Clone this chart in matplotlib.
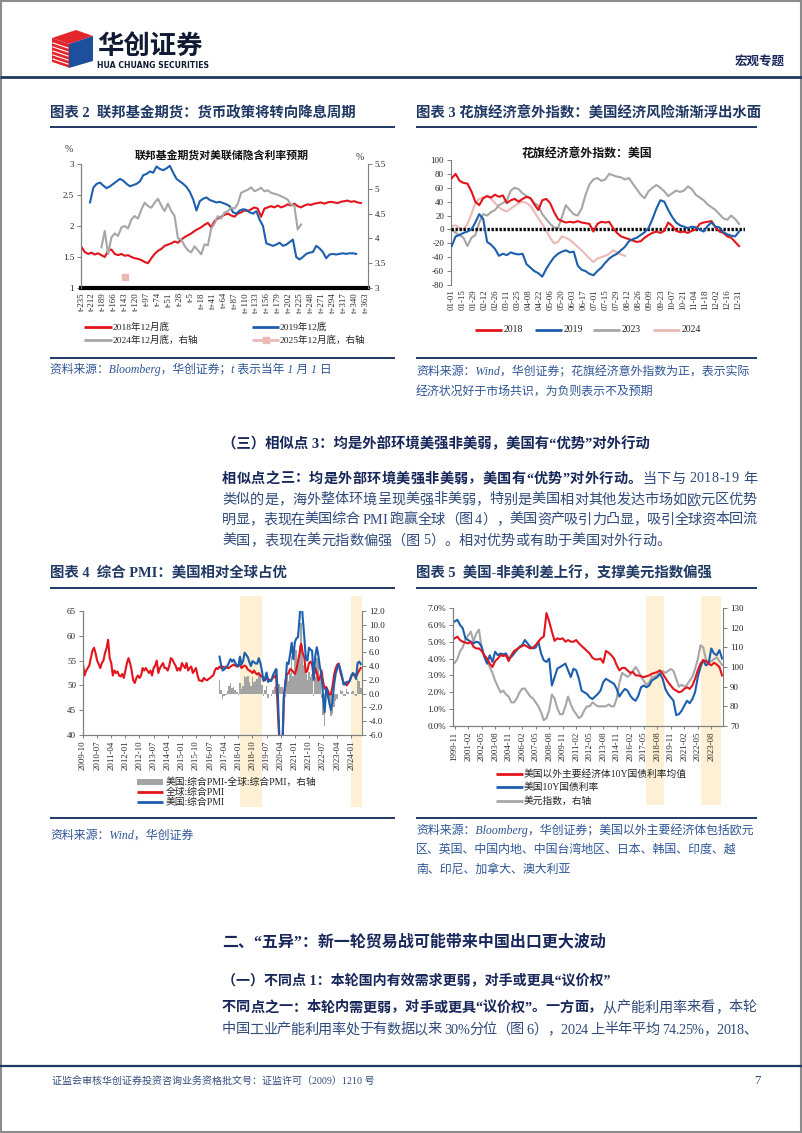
import matplotlib
matplotlib.use("Agg")
import matplotlib.pyplot as plt
import numpy as np
from matplotlib.font_manager import FontProperties
from matplotlib.lines import Line2D
from matplotlib.patches import Polygon, Rectangle

# ---------------- data ----------------
# 图表2: 联邦基金期货隐含利率, x = 距当年1月1日天数
fed_x_2018 = np.arange(-235, 354, 7)
fed_2018 = [1.66, 1.58, 1.55, 1.57, 1.54, 1.56, 1.53, 1.50, 1.60, 1.62,
            1.55, 1.53, 1.55, 1.52, 1.53, 1.50, 1.48, 1.47, 1.45, 1.42,
            1.40, 1.48, 1.55, 1.60, 1.63, 1.68, 1.70, 1.72, 1.75, 1.73,
            1.78, 1.82, 1.85, 1.88, 1.92, 1.95, 1.98, 2.02, 2.05, 1.98,
            2.08, 2.12, 2.15, 2.18, 2.20, 2.17, 2.15, 2.20, 2.22, 2.25,
            2.24, 2.27, 2.30, 2.28, 2.15, 2.28, 2.30, 2.32, 2.30, 2.33,
            2.30, 2.32, 2.35, 2.33, 2.36, 2.32, 2.30, 2.33, 2.35, 2.34,
            2.36, 2.37, 2.38, 2.36, 2.38, 2.39, 2.38, 2.37, 2.39, 2.40,
            2.41, 2.39, 2.40, 2.38, 2.37]
fed_x_2019 = np.arange(-217, 344, 7)
fed_2019 = [2.38, 2.62, 2.68, 2.70, 2.65, 2.61, 2.64, 2.68, 2.72, 2.76,
            2.73, 2.68, 2.64, 2.66, 2.68, 2.72, 2.82, 2.84, 2.88, 2.86,
            2.96, 2.92, 2.90, 2.93, 2.97, 2.86, 2.76, 2.72, 2.68, 2.63,
            2.55, 2.43, 2.25, 2.40, 2.44, 2.46, 2.42, 2.40, 2.38, 2.39,
            2.37, 2.35, 2.32, 2.22, 2.20, 2.25, 2.27, 2.26, 2.22, 2.20,
            2.24, 2.10, 2.00, 1.72, 1.70, 1.68, 1.70, 1.73, 1.68, 1.70,
            1.74, 1.78, 1.50, 1.46, 1.50, 1.55, 1.57, 1.58, 1.68, 1.64,
            1.58, 1.48, 1.54, 1.55, 1.54, 1.55, 1.56, 1.55, 1.56, 1.56,
            1.55]
fed_x_2024 = np.arange(-193, 228, 7)
fed_2024 = [3.82, 4.15, 3.68, 4.02, 4.10, 4.05, 4.22, 4.25, 4.20, 4.38,
            4.45, 4.40, 4.58, 4.72, 4.65, 4.62, 4.72, 4.80, 4.66, 4.55,
            4.70, 4.55, 4.45, 4.00, 3.98, 3.85, 3.76, 3.72, 3.84, 3.76,
            3.68, 3.88, 3.86, 4.20, 4.30, 4.45, 4.40, 4.52, 4.55, 4.62,
            4.60, 4.70, 4.92, 4.95, 4.98, 5.03, 4.95, 4.98, 5.02, 4.95,
            4.97, 4.92, 4.90, 4.88, 4.85, 4.82, 4.78, 4.68, 4.66, 4.18,
            4.28]
fed_x_2025 = [-144]
fed_2025 = [3.22]
fed_ticks = [-235, -212, -189, -166, -143, -120, -97, -74, -51, -28, -5, 18, 41, 64,
             87, 110, 133, 156, 179, 202, 225, 248, 271, 294, 317, 340, 363]
fed_labels = ["t-235", "t-212", "t-189", "t-166", "t-143", "t-120", "t-97", "t-74",
              "t-51", "t-28", "t-5", "t+18", "t+41", "t+64", "t+87", "t+110", "t+133",
              "t+156", "t+179", "t+202", "t+225", "t+248", "t+271", "t+294", "t+317",
              "t+340", "t+363"]

# 图表3: 花旗经济意外指数, x = 一年中的第几天
citi_days = np.arange(0, 366, 5)
citi_days_2024 = np.arange(0, 221, 5)
citi_2018 = [74, 80, 70, 67, 66, 55, 40, 35, 45, 48,
             46, 50, 47, 49, 38, 42, 44, 40, 44, 47,
             45, 36, 28, 42, 44, 38, 25, 15, 12, 10,
             11, 10, 12, 10, 9, 8, -3, 8, 11, 10,
             11, 2, -5, -10, -12, -14, -16, -18, -17, -12,
             -8, -5, -3, -5, -2, 10, 5, -2, -4, -3,
             -5, -2, 0, 8, 10, 11, 12, 3, -3, -5,
             -10, -12, -18, -24]
citi_2019 = [-24, -10, -8, -5, -3, 0, 10, 22, 15, -18,
             -22, -28, -38, -35, -37, -33, -35, -36, -35, -50,
             -55, -60, -63, -68, -57, -48, -40, -35, -32, -30,
             -33, -32, -52, -58, -60, -64, -66, -60, -55, -48,
             -42, -38, -35, -30, -25, -17, -14, -12, -8, -4,
             2, 15, 30, 42, 40, 28, 18, 10, 6, 4,
             2, 4, 3, 0, -3, 5, 10, 4, 3, -4,
             -7, -9, -10, -3]
citi_2023 = [0, -5, -8, -12, -24, -12, -8, 10, 22, 20,
             25, 28, 35, 38, 42, 56, 60, 58, 52, 48,
             45, 38, 34, 22, 15, 8, 3, 2, 18, 35,
             28, 22, 20, 30, 50, 65, 72, 74, 70, 72,
             80, 78, 76, 75, 72, 74, 66, 58, 50, 45,
             55, 60, 64, 60, 55, 48, 52, 56, 54, 56,
             62, 58, 50, 46, 42, 36, 32, 28, 22, 16,
             14, 20, 15, 8]
citi_2024 = [5, 6, 2, 0, 8, 22, 38, 44, 46, 48,
             44, 38, 32, 28, 26, 30, 34, 38, 40, 38,
             34, 25, 16, 8, -2, -12, -20, -18, -10, -12,
             -15, -20, -25, -30, -36, -42, -47, -42, -40, -38,
             -35, -30, -33, -36, -38]
citi_ticks = [0, 14, 28, 42, 56, 70, 84, 98, 112, 126, 140, 154, 168, 182, 196,
              210, 224, 238, 252, 266, 280, 294, 308, 322, 336, 350, 364]
citi_labels = ["01-01", "01-15", "01-29", "02-12", "02-26", "03-11", "03-25", "04-08",
               "04-22", "05-06", "05-20", "06-03", "06-17", "07-01", "07-15", "07-29",
               "08-12", "08-26", "09-09", "09-23", "10-07", "10-21", "11-04", "11-18",
               "12-02", "12-16", "12-31"]

# 图表4: 综合PMI, 月度, 0 = 2009-10
pmi_x = np.arange(178)
pmi_global = [54.3, 52.0, 53.0,
              53.5, 54.0, 55.5, 57.0, 57.6, 56.5, 55.0, 54.3, 53.5, 54.5, 55.0, 56.5,
              57.5, 59.2, 55.5, 54.5, 52.0, 53.0, 52.5, 52.8, 52.0, 51.8, 52.3, 51.5,
              53.0, 54.5, 55.5, 54.5, 53.0, 51.0, 50.5, 51.5, 52.0, 51.5, 52.0, 53.5,
              53.0, 53.5, 53.0, 52.5, 53.0, 52.0, 53.5, 54.0, 55.0, 52.5, 53.5, 54.0,
              54.5, 53.5, 53.5, 53.0, 54.0, 55.5, 55.2, 54.5, 54.0, 53.0, 53.5, 53.0,
              54.5, 54.0, 53.5, 54.5, 53.0, 53.5, 53.8, 52.5, 53.0, 53.5, 52.0, 51.0,
              51.0, 50.8, 51.5, 51.2, 51.0, 51.3, 51.5, 51.8, 52.0, 53.0, 53.5, 53.3,
              53.8, 53.5, 53.8, 53.5, 53.8, 53.5, 53.5, 53.8, 54.0, 54.2, 54.0, 53.8,
              54.0, 54.2, 53.5, 53.8, 54.0, 53.8, 53.2, 53.0, 52.8, 52.5, 53.0, 52.5,
              52.2, 52.5, 52.0, 51.8, 51.2, 51.0, 51.5, 51.3, 51.0, 51.2, 51.5, 51.7,
              52.2, 46.0, 39.5, 26.0, 36.0, 47.5, 50.8, 52.2, 52.5, 53.3, 53.1, 52.7,
              52.3, 53.2, 54.8, 56.5, 58.4, 56.6, 55.7, 52.6, 53.0, 54.5, 54.8, 54.2,
              51.5, 53.5, 52.5, 51.0, 51.5, 53.0, 50.8, 49.3, 49.7, 49.0, 48.2, 48.2,
              49.8, 52.1, 53.4, 54.2, 54.4, 52.7, 51.6, 50.6, 50.5, 50.0, 50.4, 51.0,
              51.8, 52.1, 52.3, 51.7, 52.4, 53.0, 53.5]
us_x = np.arange(87, 178)
pmi_us = [55.8, 54.1, 53.0, 53.2, 53.6, 53.9, 54.6, 55.3, 54.8, 55.2, 54.5, 54.1,
          53.8, 55.8, 54.2, 54.9, 56.6, 56.2, 55.7, 54.7, 53.9, 54.9, 54.7, 54.4,
          54.4, 55.5, 54.6, 53.0, 50.9, 51.5, 52.6, 50.7, 51.0, 50.9, 52.0, 52.7,
          53.3, 49.6, 40.9, 27.0, 37.0, 47.9, 50.3, 54.6, 54.3, 56.3, 58.6, 55.3,
          58.7, 59.5, 59.7, 63.5, 68.7, 63.7, 59.9, 55.4, 55.0, 57.6, 57.2, 57.0,
          51.1, 55.9, 57.7, 56.0, 53.6, 52.3, 47.7, 44.6, 49.5, 48.2, 46.4, 45.0,
          46.8, 50.1, 52.3, 53.4, 54.3, 53.2, 52.0, 50.2, 50.2, 50.7, 50.7, 50.9,
          52.0, 52.5, 52.1, 51.3, 54.5, 54.8, 54.3]
pmi_diff = [2.0, 0.6, -0.8, -0.3, -0.2, 0.4, 1.1, 1.5, 0.8, 1.0, 0.5, 0.3,
            -0.2, 1.6, 0.7, 1.1, 2.6, 2.4, 2.5, 1.7, 1.1, 2.4, 1.7, 1.9,
            2.2, 3.0, 2.6, 1.2, -0.3, 0.5, 1.1, -0.6, 0.0, -0.3, 0.5, 1.0,
            1.1, 3.6, 1.4, 1.0, 1.0, 0.4, -0.5, 2.4, 1.8, 3.0, 5.5, 2.6,
            6.4, 6.3, 4.9, 7.0, 10.3, 7.1, 4.2, 2.8, 2.0, 3.1, 2.4, 2.8,
            -0.4, 2.4, 5.2, 5.0, 2.1, -0.7, -3.1, -4.7, -0.2, -0.8, -1.8, -3.2,
            -3.0, -2.0, -1.1, -0.8, -0.1, 0.5, 0.4, -0.4, -0.3, 0.7, 0.3, -0.1,
            0.2, 0.4, -0.2, -0.4, 2.1, 1.8, 0.8]
pmi_ticks = [0, 9, 18, 27, 36, 45, 54, 63, 72, 81, 90, 99, 108, 117, 126, 135, 144, 153, 162, 171]
pmi_labels = ["2009-10", "2010-07", "2011-04", "2012-01", "2012-10", "2013-07", "2014-04",
              "2015-01", "2015-10", "2016-07", "2017-04", "2018-01", "2018-10", "2019-07",
              "2020-04", "2021-01", "2021-10", "2022-07", "2023-04", "2024-01"]
pmi_shade = [(100, 114), (171, 177.6)]

# 图表5: 10Y国债利率与美元指数, 季度采样, 0 = 1999-11
rate_x = np.arange(0, 300, 3)
rate_nonus = [5.2, 5.3, 5.1, 5.0, 4.95, 4.9, 5.0, 4.7, 4.6, 4.6,
              4.45, 4.2, 4.0, 3.7, 3.5, 3.85, 4.0, 4.2, 4.15, 4.2,
              3.85, 4.2, 4.45, 4.55, 4.65, 4.75, 4.8, 4.7, 4.6, 4.65,
              4.8, 5.0, 5.2, 5.3, 6.7, 6.2, 5.6, 5.05, 5.2, 5.15,
              5.2, 5.0, 5.1, 5.0, 5.0, 5.1, 4.9, 4.75, 4.6, 4.45,
              4.3, 4.05, 3.95, 3.95, 4.0, 3.75, 4.45, 4.35, 4.2, 4.0,
              3.6, 3.3, 3.45, 3.45, 3.3, 3.15, 3.2, 3.0, 3.0, 2.95,
              2.9, 2.95, 3.0, 3.1, 3.15, 3.2, 3.3, 3.1, 2.85, 2.6,
              2.4, 2.2, 2.1, 2.0, 2.05, 2.2, 2.3, 2.2, 2.4, 2.8,
              3.3, 3.7, 3.9, 3.85, 3.7, 3.6, 3.75, 3.65, 3.5, 3.0]
rate_us = [6.2, 6.3, 6.0, 5.8, 5.2, 5.1, 5.0, 4.9, 5.0, 4.95,
           4.7, 4.1, 3.7, 4.2, 3.8, 4.4, 4.2, 4.3, 4.25, 4.3,
           4.0, 4.1, 4.3, 4.5, 4.7, 4.8, 5.1, 4.9, 4.7, 4.6,
           4.65, 5.0, 4.3, 3.9, 3.8, 4.0, 2.4, 2.9, 3.4, 3.5,
           3.6, 3.7, 3.3, 2.9, 3.4, 3.3, 2.8, 2.1, 2.0, 1.9,
           1.7, 1.6, 1.75, 1.9, 2.1, 2.6, 2.8, 2.7, 2.6, 2.5,
           2.2, 1.75, 2.0, 2.2, 2.1, 1.8, 1.6, 1.5, 1.8, 2.3,
           2.4, 2.3, 2.4, 2.7, 2.8, 2.9, 3.1, 2.8, 2.2, 1.9,
           1.7, 1.5, 0.65, 0.7, 0.9, 1.2, 1.5, 1.35, 1.6, 2.0,
           2.9, 3.5, 3.9, 3.6, 3.7, 4.6, 4.3, 4.2, 4.5, 4.0]
dxy = [102, 104, 108, 110, 114, 116, 118, 113, 117, 119,
       110, 105, 103, 100, 97, 93, 90, 87, 88, 86,
       85, 82, 82, 84, 87, 89, 89, 87, 85, 84,
       82, 80, 77, 73, 74, 78, 86, 84, 79, 76,
       76, 80, 85, 81, 78, 76, 74, 75, 78, 80,
       80, 82, 81, 80, 80, 80, 80, 81, 80, 80,
       84, 92, 97, 96, 95, 96, 98, 100, 98, 95,
       93, 91, 92, 95, 95, 96, 97, 98, 97, 98,
       99, 98, 94, 90, 91, 90, 91, 93, 95, 99,
       104, 111, 110, 104, 102, 103, 104, 105, 103, 101]
rate_ticks = [0, 15, 30, 45, 60, 75, 90, 105, 120, 135, 150, 165, 180, 195, 210,
              225, 240, 255, 270, 285]
rate_labels = ["1999-11", "2001-02", "2002-05", "2003-08", "2004-11", "2006-02", "2007-05",
               "2008-08", "2009-11", "2011-02", "2012-05", "2013-08", "2014-11", "2016-02",
               "2017-05", "2018-08", "2019-11", "2021-02", "2022-05", "2023-08"]
rate_shade = [(212, 233), (274, 296)]

# ---------------- style ----------------
W, H = 802, 1133
FAM = ["Liberation Serif", "Noto Sans CJK SC", "DejaVu Sans"]
plt.rcParams["font.family"] = FAM
plt.rcParams["axes.unicode_minus"] = False

RED = "#e2141c"
BLUE = "#1c5fae"
GRAY = "#a6a6a6"
PINK = "#ebb9b5"
NAVY = "#1f3864"
SRC = "#2e5597"
SHADE = "#fdf0d4"
DARK = "#17275a"
BODY = "#2f4a7c"
AXC = "#7f7f7f"

fig = plt.figure(figsize=(W / 100, H / 100), dpi=100)
renderer = fig.canvas.get_renderer()


def fx(x):
    return x / W


def fy(y):
    return 1 - y / H


def put(x, y, s, size, **kw):
    kw.setdefault("va", "center")
    return fig.text(fx(x), fy(y), s, fontsize=size, **kw)


def hline(x0, x1, y, color=NAVY, lw=1.4):
    fig.add_artist(Line2D([fx(x0), fx(x1)], [fy(y), fy(y)], transform=fig.transFigure,
                          color=color, lw=lw, solid_capstyle="butt"))


def tw(s, fp):
    return renderer.get_text_width_height_descent(s, fp, ismath=False)[0]


def justify(x0, x1, y, parts, size, stretch=True):
    # lay out characters one by one so the line fills x0..x1 like the justified original
    items = []
    for s, bold in parts:
        fp = FontProperties(family=FAM, weight="bold" if bold else "normal", size=size)
        bar2 = tw("||", fp)
        bar1 = tw("|", fp)
        for ch in s:
            adv = tw("|" + ch + "|", fp) - bar2
            off = 0 if ch == " " else tw("|" + ch, fp) - tw(ch, fp) - (bar2 - bar1)
            items.append((ch, bold, adv, off))
    natural = sum(it[2] for it in items)
    gap = (x1 - x0 - natural) / (len(items) - 1) if stretch else 0
    x = x0
    for ch, bold, adv, off in items:
        if ch != " ":
            put(x + off, y, ch, size, weight="bold" if bold else "normal",
                color=DARK if bold else BODY)
        x += adv + gap


def axes_px(l, t, r, b):
    return fig.add_axes([l / W, 1 - b / H, (r - l) / W, (b - t) / H])


def style(ax, right=False):
    for s in ax.spines.values():
        s.set_color(AXC)
        s.set_linewidth(0.8)
    ax.spines["top"].set_visible(False)
    if not right:
        ax.spines["right"].set_visible(False)
    ax.tick_params(labelsize=6.5, length=3, width=0.7, color=AXC, labelcolor="#262626", pad=2)


def leg_line(x0, x1, y, color, lw=2.0):
    fig.add_artist(Line2D([fx(x0), fx(x1)], [fy(y), fy(y)], transform=fig.transFigure,
                          color=color, lw=lw, solid_capstyle="butt"))


# ---------------- page frame / header ----------------
fig.add_artist(Rectangle((0.001, 0.001), 0.998, 0.998, transform=fig.transFigure,
                         fill=False, edgecolor="#8c8c8c", lw=1.5))
fig.add_artist(Polygon([(fx(52), fy(38)), (fx(76), fy(30)), (fx(93), fy(36)), (fx(69), fy(44))],
                       closed=True, transform=fig.transFigure, color="#e3262b", lw=0))
fig.add_artist(Polygon([(fx(52), fy(38)), (fx(69), fy(44)), (fx(69), fy(68)), (fx(52), fy(62))],
                       closed=True, transform=fig.transFigure, color="#e3262b", lw=0))
fig.add_artist(Polygon([(fx(69), fy(44)), (fx(93), fy(36)), (fx(93), fy(61)), (fx(69), fy(68))],
                       closed=True, transform=fig.transFigure, color="#1d4f9c", lw=0))
for k in range(6):
    fig.add_artist(Line2D([fx(53), fx(68)], [fy(43 + 4 * k), fy(48 + 4 * k)],
                          transform=fig.transFigure, color="white", lw=0.8))
put(97, 46, "华创证券", 19, weight="bold", color="#111a33", family=["Noto Sans CJK SC"])
put(97, 65, "HUA CHUANG SECURITIES", 5.6, weight="bold", color="#111a33", family=["DejaVu Sans"])
put(785, 62, "宏观专题", 9, weight="bold", color=DARK, ha="right")
hline(0, W, 77, NAVY, 2.0)

# ---------------- chart titles row 1 ----------------
put(50, 113, "图表 2  联邦基金期货：货币政策将转向降息周期", 10.4, weight="bold", color=NAVY)
hline(50, 395, 127)
put(416, 113, "图表 3 花旗经济意外指数：美国经济风险渐渐浮出水面", 10.4, weight="bold", color=NAVY)
hline(416, 757, 127)

# ---------------- chart 2 ----------------
ax2 = axes_px(81, 164, 368, 288)
ax2r = ax2.twinx()
ax2.plot(fed_x_2018, fed_2018, color=RED, lw=1.5)
ax2.plot(fed_x_2019, fed_2019, color=BLUE, lw=1.5)
ax2r.plot(fed_x_2024, fed_2024, color=GRAY, lw=1.5)
ax2r.plot(fed_x_2025, fed_2025, ls="none", marker="s", ms=5, color=PINK)
ax2.set_xlim(-236, 368)
ax2.set_ylim(1, 3)
ax2r.set_ylim(3, 5.5)
style(ax2)
style(ax2r, right=True)
ax2.set_yticks([1, 1.5, 2, 2.5, 3], ["1", "1.5", "2", "2.5", "3"])
ax2r.set_yticks([3, 3.5, 4, 4.5, 5, 5.5], ["3", "3.5", "4", "4.5", "5", "5.5"])
ax2.set_xticks(fed_ticks, fed_labels, rotation=90)
ax2.tick_params(axis="x", length=0, labelsize=6.3, pad=3)
ax2.spines["bottom"].set_color("black")
ax2.spines["bottom"].set_linewidth(3)
ax2r.spines["bottom"].set_visible(False)
put(222, 155, "联邦基金期货对美联储隐含利率预期", 7.8, weight="bold", ha="center", color="#111111")
put(69, 150, "%", 7, ha="center", color="#333333")
put(360, 157, "%", 7, ha="center", color="#333333")

leg_line(84, 112, 327, RED)
put(113, 327, "2018年12月底", 6.8, color="#222222")
leg_line(252, 279, 327, BLUE)
put(280, 327, "2019年12底", 6.8, color="#222222")
leg_line(84, 112, 340, GRAY)
put(113, 340, "2024年12月底，右轴", 6.8, color="#222222")
leg_line(252, 279, 340, PINK)
fig.add_artist(Line2D([fx(265.5)], [fy(340)], transform=fig.transFigure, marker="s", ms=4,
                      color=PINK, ls="none"))
put(280, 340, "2025年12月底，右轴", 6.8, color="#222222")
hline(50, 395, 358)
put(50, 369, "资料来源：Bloomberg，华创证券；t 表示当年 1 月 1 日", 8.5, color=SRC, style="italic")

# ---------------- chart 3 ----------------
ax3 = axes_px(451, 160, 745, 285)
ax3.plot(citi_days_2024, citi_2024, color=PINK, lw=1.5, zorder=2)
ax3.plot(citi_days, citi_2023, color=GRAY, lw=1.5, zorder=2)
ax3.axhline(0, color="black", lw=2.4, ls=(0, (0.7, 0.5)), zorder=3)
ax3.plot(citi_days, citi_2018, color=RED, lw=1.5, zorder=4)
ax3.plot(citi_days, citi_2019, color=BLUE, lw=1.5, zorder=4)
ax3.set_xlim(-0.9, 372.5)
ax3.set_ylim(-80, 100)
style(ax3)
ax3.spines["bottom"].set_visible(False)
ax3.set_yticks(range(-80, 101, 20))
ax3.set_xticks(citi_ticks, citi_labels, rotation=90)
ax3.tick_params(axis="x", length=0, labelsize=6.3, pad=3)
put(587, 155, "花旗经济意外指数：美国", 8.6, weight="bold", ha="center", color="#111111")

for x0, c, lab in [(475, RED, "2018"), (535, BLUE, "2019"), (593, GRAY, "2023"), (653, PINK, "2024")]:
    leg_line(x0, x0 + 27, 330, c)
    put(x0 + 29, 330, lab, 7, color="#222222")
hline(416, 757, 358)
put(416, 372, "资料来源：Wind，华创证券；花旗经济意外指数为正，表示实际", 8.6, color=SRC, style="italic")
put(416, 393, "经济状况好于市场共识，为负则表示不及预期", 8.6, color=SRC, style="italic")

# ---------------- text block 1 ----------------
BS = 10.2
put(222, 444, "（三）相似点 3：均是外部环境美强非美弱，美国有“优势”对外行动", 10.4, weight="bold", color=DARK)
justify(222, 757, 479, [("相似点之三：均是外部环境美强非美弱，美国有“优势”对外行动。", True),
                        ("当下与 2018-19 年", False)], BS)
justify(222, 757, 500, [("类似的是，海外整体环境呈现美强非美弱，特别是美国相对其他发达市场如欧元区优势", False)], BS)
justify(222, 757, 520, [("明显，表现在美国综合 PMI 跑赢全球（图 4），美国资产吸引力凸显，吸引全球资本回流", False)], BS)
justify(222, 757, 541, [("美国，表现在美元指数偏强（图 5）。相对优势或有助于美国对外行动。", False)], BS, stretch=False)

# ---------------- chart titles row 2 ----------------
put(50, 573, "图表 4  综合 PMI：美国相对全球占优", 10.4, weight="bold", color=NAVY)
hline(50, 395, 588)
put(416, 573, "图表 5  美国-非美利差上行，支撑美元指数偏强", 10.4, weight="bold", color=NAVY)
hline(416, 757, 588)

# ---------------- chart 4 ----------------
ax4 = axes_px(83, 611, 362, 735)
ax4r = ax4.twinx()
ax4.set_zorder(ax4r.get_zorder() + 1)
ax4.patch.set_visible(False)
for a, b in pmi_shade:
    ax4r.axvspan(a, b, ymin=-0.58, ymax=1.12, color=SHADE, lw=0, clip_on=False, zorder=0)
ax4r.bar(us_x, pmi_diff, width=1.0, color="#a3a3a3", lw=0, zorder=1)
ax4.plot(pmi_x, pmi_global, color=RED, lw=1.5)
ax4.plot(us_x, pmi_us, color=BLUE, lw=1.5)
ax4.set_xlim(0, 177.8)
ax4.set_ylim(40, 65)
ax4r.set_ylim(-6, 12)
style(ax4)
style(ax4r, right=True)
ax4.set_yticks(range(40, 66, 5))
ax4r.set_yticks(range(-6, 13, 2), ["%.1f" % v for v in range(-6, 13, 2)])
ax4.set_xticks(pmi_ticks, pmi_labels, rotation=90)
ax4.tick_params(axis="x", labelsize=6.3, length=2)

fig.add_artist(Rectangle((fx(137), fy(785)), (163 - 137) / W, 6 / H, transform=fig.transFigure,
                         color="#a3a3a3", lw=0))
put(166, 782, "美国:综合PMI-全球:综合PMI，右轴", 7, color="#222222")
leg_line(137, 163, 792, RED)
put(166, 792, "全球:综合PMI", 7, color="#222222")
leg_line(137, 163, 802, BLUE)
put(166, 802, "美国:综合PMI", 7, color="#222222")
hline(50, 395, 818)
put(50, 836, "资料来源：Wind，华创证券", 8.6, color=SRC, style="italic")

# ---------------- chart 5 ----------------
ax5 = axes_px(453, 608, 723, 726)
ax5r = ax5.twinx()
ax5.set_zorder(ax5r.get_zorder() + 1)
ax5.patch.set_visible(False)
for a, b in rate_shade:
    ax5r.axvspan(a, b, ymin=-0.67, ymax=1.10, color=SHADE, lw=0, clip_on=False, zorder=0)
ax5r.plot(rate_x, dxy, color=GRAY, lw=1.5, zorder=1)
ax5.plot(rate_x, rate_us, color=BLUE, lw=1.5)
ax5.plot(rate_x, rate_nonus, color=RED, lw=1.5)
ax5.set_xlim(-1.8, 298)
ax5.set_ylim(0, 7)
ax5r.set_ylim(70, 130)
style(ax5)
style(ax5r, right=True)
ax5.set_yticks(range(0, 8), ["%.1f%%" % v for v in range(0, 8)])
ax5r.set_yticks(range(70, 131, 10))
ax5.set_xticks(rate_ticks, rate_labels, rotation=90)
ax5.tick_params(axis="x", labelsize=6.3, length=2)

leg_line(496, 523, 774, RED)
put(524, 774, "美国以外主要经济体10Y国债利率均值", 7, color="#222222")
leg_line(496, 523, 787, BLUE)
put(524, 787, "美国10Y国债利率", 7, color="#222222")
leg_line(496, 523, 801, GRAY)
put(524, 801, "美元指数，右轴", 7, color="#222222")
hline(416, 757, 818)
put(416, 830, "资料来源：Bloomberg，华创证券；美国以外主要经济体包括欧元", 8.6, color=SRC, style="italic")
put(416, 850, "区、英国、中国内地、中国台湾地区、日本、韩国、印度、越", 8.6, color=SRC, style="italic")
put(416, 870, "南、印尼、加拿大、澳大利亚", 8.6, color=SRC, style="italic")

# ---------------- text block 2 ----------------
put(222, 942, "二、“五异”：新一轮贸易战可能带来中国出口更大波动", 11.5, weight="bold", color=DARK)
put(222, 980, "（一）不同点 1：本轮国内有效需求更弱，对手或更具“议价权”", 10.1, weight="bold", color=DARK)
justify(222, 757, 1008, [("不同点之一：本轮内需更弱，对手或更具“议价权”。一方面，", True),
                         ("从产能利用率来看，本轮", False)], BS)
justify(222, 757, 1030, [("中国工业产能利用率处于有数据以来 30%分位（图 6），2024 上半年平均 74.25%，2018、", False)], BS)

# ---------------- footer ----------------
hline(0, W, 1066, NAVY, 1.6)
put(52, 1081, "证监会审核华创证券投资咨询业务资格批文号：证监许可（2009）1210 号", 7.2, color=BODY)
put(757, 1081, "7", 9, color=BODY, ha="center")

fig.savefig("out.png", dpi=100)
